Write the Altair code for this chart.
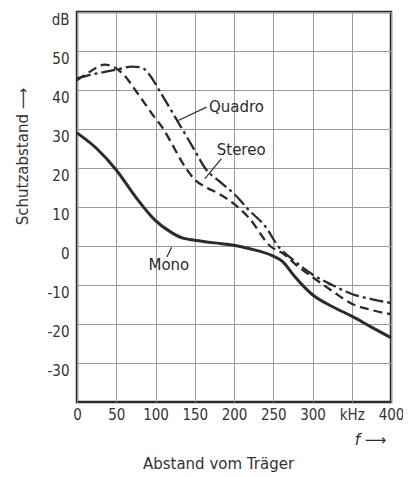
import altair as alt
import pandas as pd

# ---- data ----
mono_x = [0, 25, 50, 75, 100, 120, 135, 150, 175, 200, 220, 250, 262, 276, 300, 325, 350, 375, 400]
mono_y = [29, 25, 19.5, 12.5, 6.5, 3.5, 2, 1.5, 0.8, 0.2, -0.7, -2.6, -4, -7.5, -12.5, -15.5, -18, -20.8, -23.5]

stereo_x = [0, 15, 35, 50, 60, 76, 97, 110, 120, 137, 150, 165, 180, 200, 220, 246, 263, 280, 300, 325, 350, 375, 400]
stereo_y = [42.5, 44.5, 46.5, 45.5, 43.8, 39.5, 33.5, 30, 26.5, 20.5, 17, 15, 13.5, 10.8, 7, 0, -2, -5, -8, -11.5, -14.8, -16.4, -17.5]

quadro_x = [0, 20, 50, 70, 82, 92, 106, 131, 150, 163, 180, 200, 220, 240, 256, 275, 300, 325, 350, 375, 400]
quadro_y = [43, 44, 45.2, 46, 45.8, 44, 39.5, 31, 24.5, 20, 16.8, 13.4, 9, 5, 0, -3.5, -7.3, -10, -12.3, -13.6, -14.6]

label_text = ["Quadro", "Stereo", "Mono"]
label_x = [168, 178, 117]
label_y = [35.6, 24.6, -4.9]
label_align = ["left", "left", "center"]
leader_x = [165, 184, 120.5]
leader_y = [35.6, 22.4, -0.3]
leader_x2 = [129, 163, 114.5]
leader_y2 = [32.2, 17.3, -2.8]

x_ticks = [0, 50, 100, 150, 200, 250, 300, 350, 400]
y_ticks = [-30, -20, -10, 0, 10, 20, 30, 40, 50, 60]

FONT = "DejaVu Sans Condensed"
TFONT = "DejaVu Sans"
INK = "#2b2b2b"

mono = pd.DataFrame({"f": mono_x, "db": mono_y})
stereo = pd.DataFrame({"f": stereo_x, "db": stereo_y})
quadro = pd.DataFrame({"f": quadro_x, "db": quadro_y})
labels = pd.DataFrame({"t": label_text, "f": label_x, "db": label_y, "a": label_align})
leaders = pd.DataFrame({"f": leader_x, "db": leader_y, "f2": leader_x2, "db2": leader_y2})
farrow = pd.DataFrame({"t": ["f ⟶"], "f": [374], "db": [-49.8]})

xscale = alt.Scale(domain=[0, 400], nice=False, zero=False)
yscale = alt.Scale(domain=[-40, 60], nice=False, zero=False)

xaxis = alt.Axis(values=x_ticks, grid=True, ticks=False, domain=False,
                 labelExpr="datum.value == 350 ? 'kHz' : datum.label",
                 labelFlush=False, labelOverlap=False, labelPadding=5,
                 title="Abstand vom Träger", titleX=141, titleY=61,
                 titleBaseline="middle", titleAnchor="start", titleAlign="center")
yaxis = alt.Axis(values=y_ticks, grid=True, ticks=False, domain=False,
                 labelExpr="datum.value == 60 ? 'dB' : replace(datum.label, '−', '-')",
                 labelOverlap=False, labelPadding=8, labelBaseline="top",
                 title="Schutzabstand ⟶", titleX=-55, titleY=144,
                 titleBaseline="middle", titleAlign="center", titleAngle=-90)

X = alt.X("f:Q", scale=xscale, axis=xaxis)
Y = alt.Y("db:Q", scale=yscale, axis=yaxis)

mono_line = alt.Chart(mono).mark_line(color=INK, strokeWidth=3, interpolate="monotone").encode(x=X, y=Y)
stereo_line = alt.Chart(stereo).mark_line(color=INK, strokeWidth=2.3, strokeDash=[9, 5], interpolate="monotone").encode(x=X, y=Y)
quadro_line = alt.Chart(quadro).mark_line(color=INK, strokeWidth=2.3, strokeDash=[14, 4, 3, 4], interpolate="monotone").encode(x=X, y=Y)

lead = alt.Chart(leaders).mark_rule(color=INK, strokeWidth=1.2).encode(x=X, y=Y, x2="f2:Q", y2="db2:Q")

txt_left = alt.Chart(labels[labels.a == "left"]).mark_text(
    align="left", baseline="middle", font=TFONT, fontSize=15, color=INK).encode(x=X, y=Y, text="t:N")
txt_center = alt.Chart(labels[labels.a == "center"]).mark_text(
    align="center", baseline="middle", font=TFONT, fontSize=15, color=INK).encode(x=X, y=Y, text="t:N")
f_txt = alt.Chart(farrow).mark_text(
    align="center", baseline="middle", font=TFONT, fontSize=15, fontStyle="italic", color=INK).encode(x=X, y=Y, text="t:N")

chart = alt.layer(mono_line, stereo_line, quadro_line, lead, txt_left, txt_center, f_txt).properties(
    width=314, height=390,
    autosize=alt.AutoSizeParams(type="none"),
    padding={"left": 69, "top": 4, "right": 12, "bottom": 80},
    background="white",
).configure_view(
    stroke=INK, strokeWidth=2.5
).configure_axis(
    gridColor="#9a9a9a", gridWidth=1, gridOpacity=1,
    labelFont=FONT, labelFontSize=15, labelColor="#333333",
    titleFont=TFONT, titleFontSize=15, titleFontWeight="normal", titleColor="#333333",
)

chart.save("out.html", embed_options={"renderer": "svg", "actions": False})
